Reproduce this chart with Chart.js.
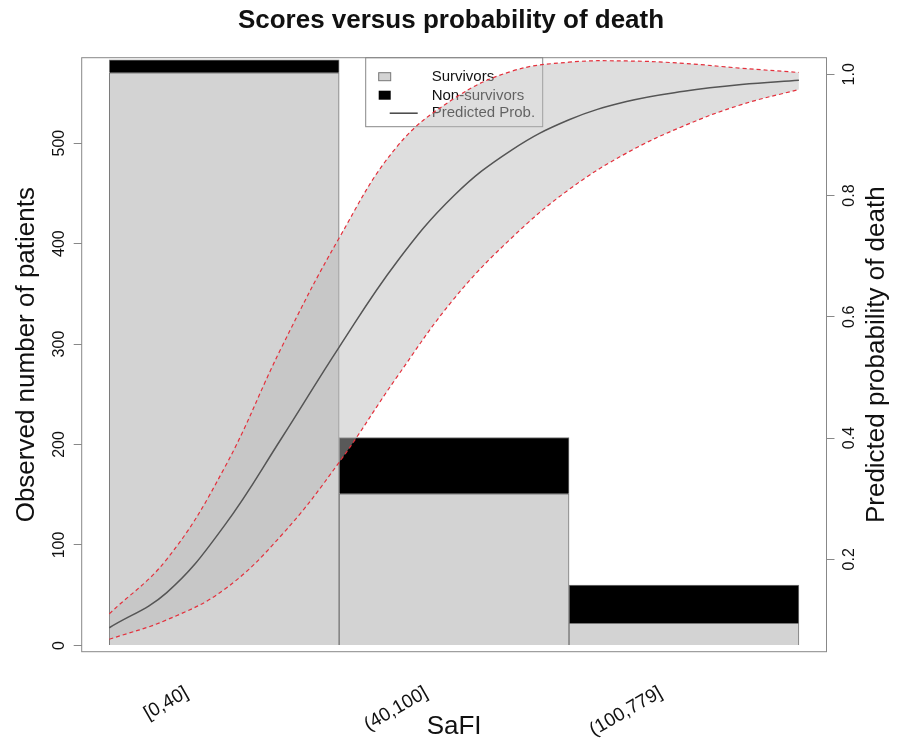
<!DOCTYPE html>
<html>
<head>
<meta charset="utf-8">
<script src="https://cdn.jsdelivr.net/npm/chart.js@4/dist/chart.umd.min.js"></script>
<style>
body { margin: 0; background: #fff; }
#wrap { width: 902px; height: 743px; }
</style>
</head>
<body>
<div id="wrap"><canvas id="myChart"></canvas></div>
<script>
const categories = ['[0,40]', '(40,100]', '(100,779]'];
const survivors = [570, 151, 22];
const nonSurvivors = [13, 56, 38];
const countTicks = [0, 100, 200, 300, 400, 500];
const probTicks = [0.2, 0.4, 0.6, 0.8, 1.0];
// positions along the bar axis: 0 = left edge of first bar, 3 = right edge of last bar
const curveX = [0, 0.25, 0.5, 0.75, 1, 1.25, 1.5, 1.75, 2, 2.25, 2.5, 2.75, 3];
const predProb = [0.087, 0.145, 0.255, 0.40, 0.55, 0.69, 0.80, 0.875, 0.925, 0.955, 0.972, 0.983, 0.99];
const lowerCI = [0.068, 0.10, 0.15, 0.24, 0.36, 0.50, 0.63, 0.73, 0.81, 0.87, 0.915, 0.95, 0.975];
const upperCI = [0.11, 0.20, 0.35, 0.55, 0.73, 0.88, 0.96, 1.005, 1.02, 1.022, 1.018, 1.01, 1.003];

const font = 'Liberation Sans';
const xFont = '19px "' + font + '"';
const barX = categories.map((c, i) => i + 0.5);
const pts = arr => arr.map((v, i) => ({ x: curveX[i], y: v }));

// rotated labels are right-anchored by Chart.js; shift each tick so the label is centred
// a little left of its bar, as R does with srt = 30
const measure = document.createElement('canvas').getContext('2d');
measure.font = xFont;
const unitPx = 230;
const labelTicks = barX.map((v, i) => {
    const w = measure.measureText(categories[i]).width;
    return v + (-58 + w / 2 * Math.cos(Math.PI / 6)) / unitPx;
});

const boxPlugin = {
    id: 'box',
    beforeDatasetsDraw(chart) {
        // legend, drawn before the band like in the original
        const { ctx, chartArea: a } = chart;
        const lx = a.left + 284, ly = a.top;
        ctx.save();
        ctx.strokeStyle = '#888';
        ctx.lineWidth = 1;
        ctx.strokeRect(lx, ly, 177, 69);
        ctx.fillStyle = '#d3d3d3';
        ctx.fillRect(lx + 13, ly + 15, 12, 8);
        ctx.strokeStyle = '#777';
        ctx.strokeRect(lx + 13, ly + 15, 12, 8);
        ctx.fillStyle = '#000';
        ctx.fillRect(lx + 13, ly + 33, 12, 9);
        ctx.strokeStyle = '#444';
        ctx.lineWidth = 1.5;
        ctx.beginPath();
        ctx.moveTo(lx + 24, ly + 55.5);
        ctx.lineTo(lx + 52, ly + 55.5);
        ctx.stroke();
        ctx.fillStyle = '#111';
        ctx.font = '15px "' + font + '"';
        ctx.textBaseline = 'middle';
        ctx.fillText('Survivors', lx + 66, ly + 19.5);
        ctx.fillText('Non-survivors', lx + 66, ly + 38);
        ctx.fillText('Predicted Prob.', lx + 66, ly + 55.5);
        ctx.restore();
    },
    afterDraw(chart) {
        const { ctx, chartArea: a } = chart;
        ctx.save();
        ctx.strokeStyle = '#888';
        ctx.lineWidth = 1;
        ctx.strokeRect(a.left, a.top, a.right - a.left, a.bottom - a.top);
        ctx.translate(877, (a.top + a.bottom) / 2);
        ctx.rotate(-Math.PI / 2);
        ctx.fillStyle = '#111';
        ctx.font = '26px "' + font + '"';
        ctx.textAlign = 'center';
        ctx.textBaseline = 'middle';
        ctx.fillText('Predicted probability of death', 0, 0);
        ctx.restore();
    }
};

const ctx = document.getElementById('myChart').getContext('2d');
const myChart = new Chart(ctx, {
    type: 'bar',
    data: {
        datasets: [{
            label: 'Survivors',
            data: survivors.map((v, i) => ({ x: barX[i], y: v })),
            backgroundColor: '#d3d3d3',
            borderColor: '#777',
            borderWidth: 1,
            stack: 's',
            order: 3
        },
        {
            label: 'Non-survivors',
            data: nonSurvivors.map((v, i) => ({ x: barX[i], y: v })),
            backgroundColor: '#000',
            borderColor: '#777',
            borderWidth: 1,
            stack: 's',
            order: 3
        },
        {
            type: 'line',
            label: 'Lower',
            data: pts(lowerCI),
            yAxisID: 'y2',
            borderColor: '#e4303c',
            borderWidth: 1.2,
            borderDash: [4, 3],
            pointRadius: 0,
            tension: 0.4,
            fill: false,
            order: 2
        },
        {
            type: 'line',
            label: 'Upper',
            data: pts(upperCI),
            yAxisID: 'y2',
            borderColor: '#e4303c',
            borderWidth: 1.2,
            borderDash: [4, 3],
            pointRadius: 0,
            tension: 0.4,
            fill: '-1',
            backgroundColor: 'rgba(187, 187, 187, 0.48)',
            order: 2
        },
        {
            type: 'line',
            label: 'Predicted Prob.',
            data: pts(predProb),
            yAxisID: 'y2',
            borderColor: '#555',
            borderWidth: 1.5,
            pointRadius: 0,
            tension: 0.4,
            fill: false,
            order: 1
        }]
    },
    options: {
        responsive: true,
        maintainAspectRatio: false,
        animation: false,
        layout: { padding: 0 },
        datasets: { bar: { barPercentage: 1, categoryPercentage: 1 } },
        plugins: {
            legend: { display: false },
            tooltip: { enabled: false },
            title: {
                display: true,
                text: 'Scores versus probability of death',
                color: '#111',
                font: { family: font, size: 26, weight: 'bold', lineHeight: 1.2 },
                padding: { top: 5, bottom: 21.5 }
            }
        },
        scales: {
            x: {
                type: 'linear',
                offset: false,
                min: -0.12,
                max: 3.12,
                afterBuildTicks: s => { s.ticks = labelTicks.map(v => ({ value: v })); },
                afterFit: s => { s.height = 91.3; },
                grid: { display: false, offset: false },
                border: { display: false },
                ticks: {
                    minRotation: 30,
                    maxRotation: 30,
                    padding: 22,
                    color: '#111',
                    font: { family: font, size: 19 },
                    callback: (v, i) => categories[i]
                },
                title: {
                    display: true,
                    text: 'SaFI',
                    color: '#111',
                    font: { family: font, size: 26, lineHeight: 1.2 },
                    padding: { bottom: 1 }
                }
            },
            y: {
                position: 'left',
                stacked: true,
                min: -6.2,
                max: 585,
                afterBuildTicks: s => { s.ticks = countTicks.map(v => ({ value: v })); },
                afterFit: s => { s.width = 81.7; },
                grid: { display: true, drawOnChartArea: false, drawTicks: true, tickLength: 8, color: '#888' },
                border: { display: false },
                ticks: {
                    minRotation: 90,
                    maxRotation: 90,
                    crossAlign: 'center',
                    padding: 1,
                    color: '#111',
                    font: { family: font, size: 16 }
                },
                title: {
                    display: true,
                    text: 'Observed number of patients',
                    color: '#111',
                    font: { family: font, size: 26, lineHeight: 1.2 },
                    padding: { top: 11 }
                }
            },
            y2: {
                position: 'right',
                min: 0.0475,
                max: 1.0274,
                afterBuildTicks: s => { s.ticks = probTicks.map(v => ({ value: v })); },
                afterFit: s => { s.width = 75.5; },
                grid: { display: true, drawOnChartArea: false, drawTicks: true, tickLength: 8, color: '#888' },
                border: { display: false },
                ticks: {
                    minRotation: 90,
                    maxRotation: 90,
                    crossAlign: 'center',
                    padding: 4,
                    color: '#111',
                    font: { family: font, size: 16 },
                    callback: v => v.toFixed(1)
                }
            }
        }
    },
    plugins: [boxPlugin]
});
</script>
</body>
</html>
